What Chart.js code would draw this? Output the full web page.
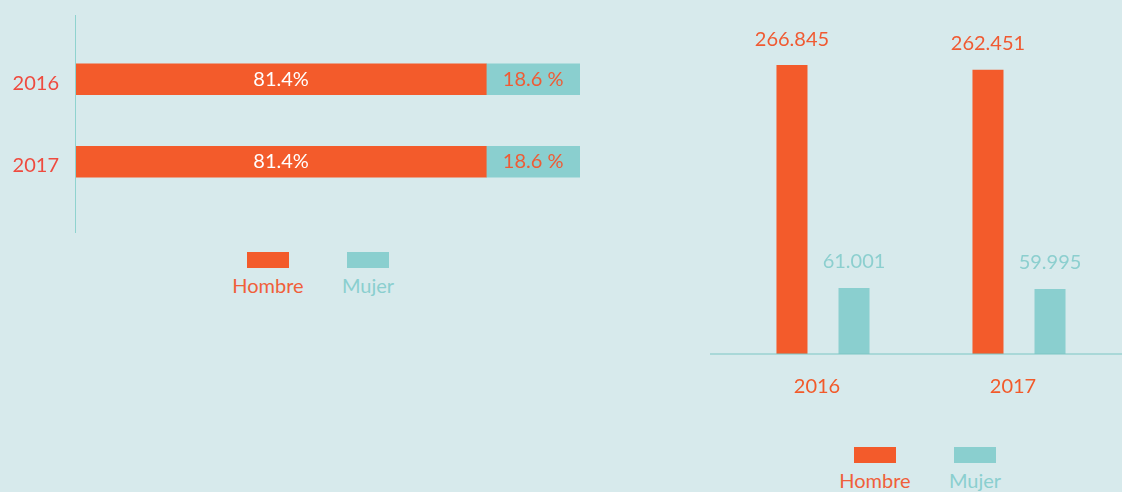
<!DOCTYPE html>
<html lang="es">
<head>
<meta charset="utf-8">
<script src="https://cdn.jsdelivr.net/npm/chart.js@4"></script>
<style>
  html, body { margin: 0; padding: 0; }
  body { width: 1122px; height: 492px; overflow: hidden; background: #d7eaec; position: relative; font-family: Lato, sans-serif; }
  .abs { position: absolute; }
  #leftAxis { left: 75px; top: 15px; width: 1px; height: 218px; background: #8fd3cf; }
  #rightAxis { left: 710px; top: 353px; width: 412px; height: 2px; background: rgba(123, 198, 196, 0.5); z-index: 2; }
  .legend { display: flex; }
  .legend .item { width: 100px; display: flex; flex-direction: column; align-items: center; }
  .legend .swatch { width: 42px; height: 16px; margin-bottom: 5px; }
  .legend .text { font-size: 20px; line-height: 24px; }
  #leftLegend { left: 218px; top: 252px; }
  #rightLegend { left: 825px; top: 447px; }
</style>
</head>
<body>
<canvas id="shareChart" class="abs" width="600" height="240" style="left:0;top:0"></canvas>
<div id="leftAxis" class="abs"></div>
<div id="leftLegend" class="abs legend"></div>
<canvas id="countChart" class="abs" width="422" height="400" style="left:700px;top:0"></canvas>
<div id="rightAxis" class="abs"></div>
<div id="rightLegend" class="abs legend"></div>
<script>
const ORANGE = "#f35b2b";
const TEAL = "#8acfcf";
const FONT = { family: "Lato", size: 20 };

const years = ["2016", "2017"];
const seriesNames = ["Hombre", "Mujer"];
const shareHombre = [81.4, 81.4];
const shareMujer = [18.6, 18.6];
const shareHombreLabels = ["81.4%", "81.4%"];
const shareMujerLabels = ["18.6 %", "18.6 %"];
const countHombre = [266845, 262451];
const countMujer = [61001, 59995];

const $ = (id) => document.getElementById(id);
const thousands = (n) => String(n).replace(/\B(?=(\d{3})+(?!\d))/g, ".");

// draws the text of each bar, inside for the stacked chart, above for the columns
const barLabels = {
  id: "barLabels",
  afterDatasetsDraw(chart, args, opts) {
    const ctx = chart.ctx;
    ctx.save();
    ctx.font = `${FONT.size}px ${FONT.family}`;
    ctx.textAlign = "center";
    ctx.textBaseline = "middle";
    chart.data.datasets.forEach((ds, i) => {
      chart.getDatasetMeta(i).data.forEach((bar, j) => {
        ctx.fillStyle = ds.labelColor;
        if (opts.inside) ctx.fillText(ds.valueLabels[j], (bar.x + bar.base) / 2, bar.y);
        else ctx.fillText(ds.valueLabels[j], bar.x, bar.y - 26);
      });
    });
    ctx.restore();
  },
};

function legend(el, datasets) {
  el.innerHTML = datasets.map((ds) =>
    `<div class="item"><div class="swatch" style="background:${ds.backgroundColor}"></div>` +
    `<div class="text" style="color:${ds.legendColor}">${ds.label}</div></div>`
  ).join("");
}

const shareData = {
  labels: years,
  datasets: [
    { label: seriesNames[0], data: shareHombre, backgroundColor: ORANGE, valueLabels: shareHombreLabels, labelColor: "#ffffff", legendColor: "#f0603a", barThickness: 31 },
    { label: seriesNames[1], data: shareMujer, backgroundColor: TEAL, valueLabels: shareMujerLabels, labelColor: "#ef5b35", legendColor: TEAL, barThickness: 31 },
  ],
};

new Chart($("shareChart"), {
  type: "bar",
  data: shareData,
  plugins: [barLabels],
  options: {
    indexAxis: "y",
    responsive: false,
    animation: false,
    layout: { padding: { top: 38, bottom: 37, right: 20, left: 0 } },
    plugins: { legend: { display: false }, tooltip: { enabled: false }, barLabels: { inside: true } },
    scales: {
      x: { display: false, stacked: true, min: 0, max: 100 },
      y: {
        stacked: true,
        grid: { display: false },
        border: { display: false },
        ticks: { color: "#ef4b3f", font: FONT, padding: 9, labelOffset: 4 },
        afterFit(scale) { scale.width = 76; },
      },
    },
  },
});
legend($("leftLegend"), shareData.datasets);

const countData = {
  labels: years,
  datasets: [
    { label: seriesNames[0], data: countHombre, backgroundColor: ORANGE, valueLabels: countHombre.map(thousands), labelColor: "#f05a32", legendColor: "#f0603a" },
    { label: seriesNames[1], data: countMujer, backgroundColor: TEAL, valueLabels: countMujer.map(thousands), labelColor: "#8ccfcf", legendColor: TEAL },
  ],
};

new Chart($("countChart"), {
  type: "bar",
  data: countData,
  plugins: [barLabels],
  options: {
    responsive: false,
    animation: false,
    datasets: { bar: { categoryPercentage: 0.633, barPercentage: 0.5 } },
    layout: { padding: { top: 40, bottom: 0, left: 25, right: 5 } },
    plugins: { legend: { display: false }, tooltip: { enabled: false }, barLabels: { inside: false } },
    scales: {
      y: { display: false, min: 0, max: 290000 },
      x: {
        grid: { display: false },
        border: { display: false },
        ticks: { color: "#f25a2a", font: FONT, padding: 13, labelOffset: -6 },
        afterFit(scale) { scale.height = 46; },
      },
    },
  },
});
legend($("rightLegend"), countData.datasets);
</script>
</body>
</html>
